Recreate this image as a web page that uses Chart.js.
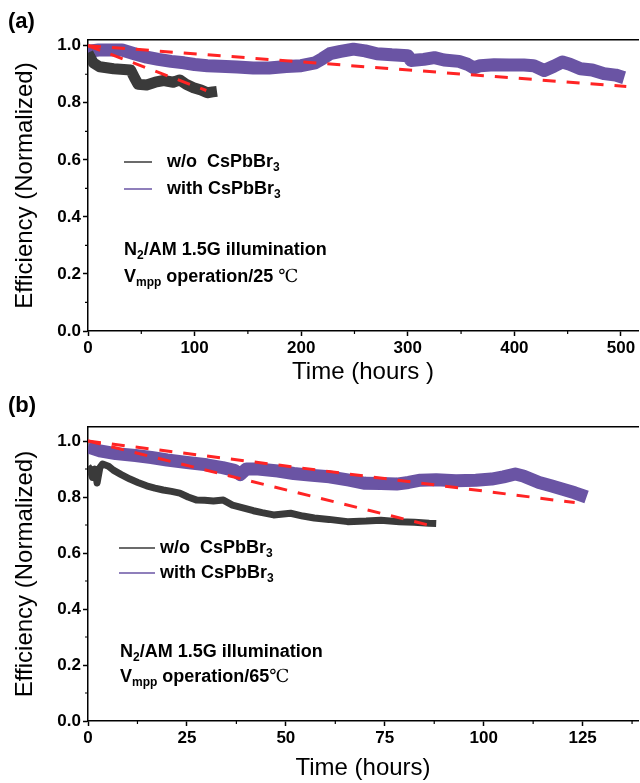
<!DOCTYPE html>
<html>
<head>
<meta charset="utf-8">
<script src="https://cdn.jsdelivr.net/npm/chart.js@4.4.0/dist/chart.umd.min.js"></script>
<style>
  html, body { margin: 0; padding: 0; background: #fff; }
  #wrap { width: 640px; height: 783px; position: relative; overflow: hidden; }
  canvas { position: absolute; left: 0; }
</style>
</head>
<body>
<div id="wrap">
  <canvas id="chartA" width="640" height="392" style="top:0"></canvas>
  <canvas id="chartB" width="640" height="391" style="top:392px"></canvas>
</div>
<script>
// ---- panel (a): 25 C, hours vs normalized efficiency ----
var hoursA_wo = [0, 2, 5, 11, 24, 40, 44, 47, 55, 63, 71, 80, 86, 92, 99, 106, 112, 117, 121];
var effA_wo   = [0.975, 0.96, 0.94, 0.926, 0.919, 0.915, 0.885, 0.865, 0.862, 0.872, 0.878, 0.872, 0.88, 0.865, 0.853, 0.845, 0.835, 0.838, 0.84];

var hoursA_with = [0, 10, 20, 32, 45, 55, 66, 78, 90, 100, 112, 124, 140, 155, 170, 186, 200, 213, 220, 227, 237, 249, 260, 271, 285, 300, 303, 315, 325, 334, 348, 356, 362, 368, 381, 395, 409, 418, 428, 437, 445, 452, 462, 473, 484, 495, 503];
var effA_with   = [0.98, 0.985, 0.985, 0.985, 0.97, 0.96, 0.952, 0.945, 0.94, 0.934, 0.93, 0.928, 0.925, 0.922, 0.922, 0.927, 0.93, 0.94, 0.955, 0.972, 0.98, 0.988, 0.982, 0.972, 0.968, 0.965, 0.948, 0.952, 0.958, 0.95, 0.945, 0.935, 0.922, 0.93, 0.933, 0.932, 0.932, 0.93, 0.913, 0.928, 0.943, 0.935, 0.919, 0.915, 0.902, 0.897, 0.888];

var fitA_wo_hours   = [0, 111];
var fitA_wo_eff     = [1.0, 0.843];
var fitA_with_hours = [0, 505];
var fitA_with_eff   = [1.0, 0.857];

// ---- panel (b): 65 C ----
var hoursB_wo = [0, 0.5, 1.1, 1.7, 2.3, 3.0, 3.7, 5.2, 6.4, 8.4, 10.6, 12.6, 14.8, 16.9, 19, 21.1, 23.2, 25.3, 27.5, 29.5, 31.7, 34.2, 36.5, 39.4, 41.8, 44, 46.9, 51.2, 54.3, 57.2, 60.9, 65.6, 70.3, 74, 78.7, 82.5, 86.2, 88];
var effB_wo   = [0.91, 0.9, 0.87, 0.9, 0.85, 0.905, 0.918, 0.91, 0.896, 0.88, 0.864, 0.852, 0.84, 0.832, 0.825, 0.82, 0.814, 0.8, 0.789, 0.788, 0.786, 0.789, 0.771, 0.76, 0.751, 0.744, 0.736, 0.742, 0.732, 0.725, 0.72, 0.712, 0.714, 0.717, 0.712, 0.71, 0.706, 0.705];

var hoursB_with = [0, 3, 7, 12, 16, 20, 25, 30, 34, 37, 38.5, 40, 43, 48, 52, 56, 61, 66, 70, 74, 78, 81, 84, 88, 93, 98, 102, 105, 108, 110, 114, 117, 120, 123, 126];
var effB_with   = [0.979, 0.965, 0.955, 0.948, 0.941, 0.932, 0.923, 0.915, 0.905, 0.895, 0.88, 0.9, 0.9, 0.893, 0.884, 0.878, 0.872, 0.86, 0.849, 0.848, 0.846, 0.852, 0.86, 0.862, 0.858, 0.86, 0.864, 0.872, 0.882, 0.875, 0.852, 0.84, 0.828, 0.815, 0.8];

var fitB_wo_hours   = [0, 86];
var fitB_wo_eff     = [1.0, 0.70];
var fitB_with_hours = [0, 123];
var fitB_with_eff   = [1.0, 0.78];

var BLACK = '#3a3a3a';
var PURPLE = '#6a54a4';
var RED = '#ff2424';
var FONT = "'Liberation Sans', Arial, sans-serif";

Chart.defaults.font.family = FONT;
Chart.defaults.color = '#000';

function pts(xs, ys) {
  return xs.map(function (x, i) { return { x: x, y: ys[i] }; });
}

function band(xs, ys, color, width, order) {
  return {
    data: pts(xs, ys), borderColor: color, borderWidth: width,
    pointRadius: 0, tension: 0, borderJoinStyle: 'round', borderCapStyle: 'butt', order: order
  };
}

function fit(xs, ys) {
  return {
    data: pts(xs, ys), borderColor: RED, borderWidth: 3, borderDash: [13, 11],
    pointRadius: 0, tension: 0, order: 0
  };
}

// short minor ticks between the labelled ones
var minorTicks = {
  id: 'minorTicks',
  afterDraw: function (chart, args, o) {
    var ctx = chart.ctx, xs = chart.scales.x, ys = chart.scales.y;
    ctx.save();
    ctx.strokeStyle = '#000';
    ctx.lineWidth = 1.2;
    ctx.beginPath();
    for (var v = o.xStep / 2; v < xs.max; v += o.xStep) {
      var px = xs.getPixelForValue(v);
      ctx.moveTo(px, ys.bottom); ctx.lineTo(px, ys.bottom + 3);
    }
    for (var w = 0.1; w < ys.max; w += 0.2) {
      var py = ys.getPixelForValue(w);
      ctx.moveTo(xs.left, py); ctx.lineTo(xs.left - 3, py);
    }
    ctx.stroke();
    ctx.restore();
  }
};

function rich(ctx, x, y, parts) {
  parts.forEach(function (p) {
    var dy = 0;
    if (p[1] === 'sub') { ctx.font = 'bold 12px ' + FONT; dy = 6; }
    else if (p[1] === 'deg') { ctx.font = '18px "DejaVu Serif", serif'; }
    else { ctx.font = 'bold 18px ' + FONT; }
    ctx.fillText(p[0], x, y + dy);
    x += ctx.measureText(p[0]).width;
  });
}

// panel tag, legend and condition text
var notes = {
  id: 'notes',
  afterDraw: function (chart, args, o) {
    var ctx = chart.ctx;
    ctx.save();
    ctx.fillStyle = '#000';
    ctx.textBaseline = 'middle';
    ctx.textAlign = 'left';
    ctx.font = 'bold 22px ' + FONT;
    ctx.fillText(o.tag, 8, o.tagY);
    o.legend.forEach(function (item, i) {
      var y = o.legendY + i * o.legendGap;
      ctx.strokeStyle = item.color;
      ctx.lineWidth = 1.5;
      ctx.beginPath(); ctx.moveTo(o.lineX[0], y); ctx.lineTo(o.lineX[1], y); ctx.stroke();
      rich(ctx, o.textX, y, item.parts);
    });
    o.lines.forEach(function (parts, i) {
      rich(ctx, o.noteX, o.noteY + i * o.noteGap, parts);
    });
    ctx.restore();
  }
};

function makeOptions(xMax, xStep, yMax, titleX, titleBottom, axisH, extra) {
  return {
    responsive: false,
    animation: false,
    layout: { padding: { top: extra.top, right: 2, bottom: 0, left: 0 } },
    plugins: {
      legend: { display: false },
      tooltip: { enabled: false },
      minorTicks: { xStep: xStep },
      notes: extra.notes
    },
    scales: {
      x: {
        type: 'linear', min: 0, max: xMax,
        afterFit: function (s) { s.height = axisH; },
        border: { display: true, color: '#000', width: 1.5 },
        grid: { drawOnChartArea: false, drawTicks: true, tickLength: 5, tickColor: '#000', tickWidth: 1.5 },
        ticks: { stepSize: xStep, includeBounds: false, autoSkip: false, maxRotation: 0, padding: 2,
                 font: { size: 17, weight: 'bold' } },
        title: { display: true, text: titleX, font: { size: 24 }, padding: { top: 0, bottom: titleBottom } }
      },
      x2: {
        type: 'linear', position: 'top', min: 0, max: xMax,
        afterFit: function (s) { s.height = 0; },
        border: { display: true, color: '#000', width: 1.5 },
        grid: { display: false },
        ticks: { display: false }
      },
      y: {
        min: 0, max: yMax,
        afterFit: function (s) { s.width = 88; },
        border: { display: true, color: '#000', width: 1.5 },
        grid: { drawOnChartArea: false, drawTicks: true, tickLength: 5, tickColor: '#000', tickWidth: 1.5 },
        ticks: { stepSize: 0.2, includeBounds: false, padding: 2, font: { size: 17, weight: 'bold' },
                 callback: function (v) { return v.toFixed(1); } },
        title: { display: true, text: 'Efficiency (Normalized)', font: { size: 24 }, padding: { top: 11, bottom: 0 } }
      }
    }
  };
}

var legendItems = function () {
  return [
    { color: BLACK, parts: [['w/o  CsPbBr', ''], ['3', 'sub']] },
    { color: PURPLE, parts: [['with CsPbBr', ''], ['3', 'sub']] }
  ];
};

new Chart(document.getElementById('chartA'), {
  type: 'line',
  data: {
    datasets: [
      fit(fitA_wo_hours, fitA_wo_eff),
      fit(fitA_with_hours, fitA_with_eff),
      band(hoursA_wo, effA_wo, BLACK, 11, 1),
      band(hoursA_with, effA_with, PURPLE, 13, 2)
    ]
  },
  options: makeOptions(516, 100, 1.02, 'Time (hours )', 5, 61, {
    top: 40,
    notes: {
      tag: '(a)', tagY: 22,
      legend: legendItems(), legendY: 162, legendGap: 27, lineX: [124, 152], textX: 167,
      lines: [
        [['N', ''], ['2', 'sub'], ['/AM 1.5G illumination', '']],
        [['V', ''], ['mpp', 'sub'], [' operation/25 ', ''], ['\u2103', 'deg']]
      ],
      noteX: 124, noteY: 250, noteGap: 27
    }
  }),
  plugins: [minorTicks, notes]
});

new Chart(document.getElementById('chartB'), {
  type: 'line',
  data: {
    datasets: [
      fit(fitB_wo_hours, fitB_wo_eff),
      fit(fitB_with_hours, fitB_with_eff),
      band(hoursB_wo, effB_wo, BLACK, 7, 1),
      band(hoursB_with, effB_with, PURPLE, 13, 2)
    ]
  },
  options: makeOptions(139, 25, 1.05, 'Time (hours)', 0, 62, {
    top: 35,
    notes: {
      tag: '(b)', tagY: 14,
      legend: legendItems(), legendY: 156, legendGap: 25, lineX: [119, 155], textX: 160,
      lines: [
        [['N', ''], ['2', 'sub'], ['/AM 1.5G illumination', '']],
        [['V', ''], ['mpp', 'sub'], [' operation/65', ''], ['\u2103', 'deg']]
      ],
      noteX: 120, noteY: 260, noteGap: 25
    }
  }),
  plugins: [minorTicks, notes]
});
</script>
</body>
</html>
